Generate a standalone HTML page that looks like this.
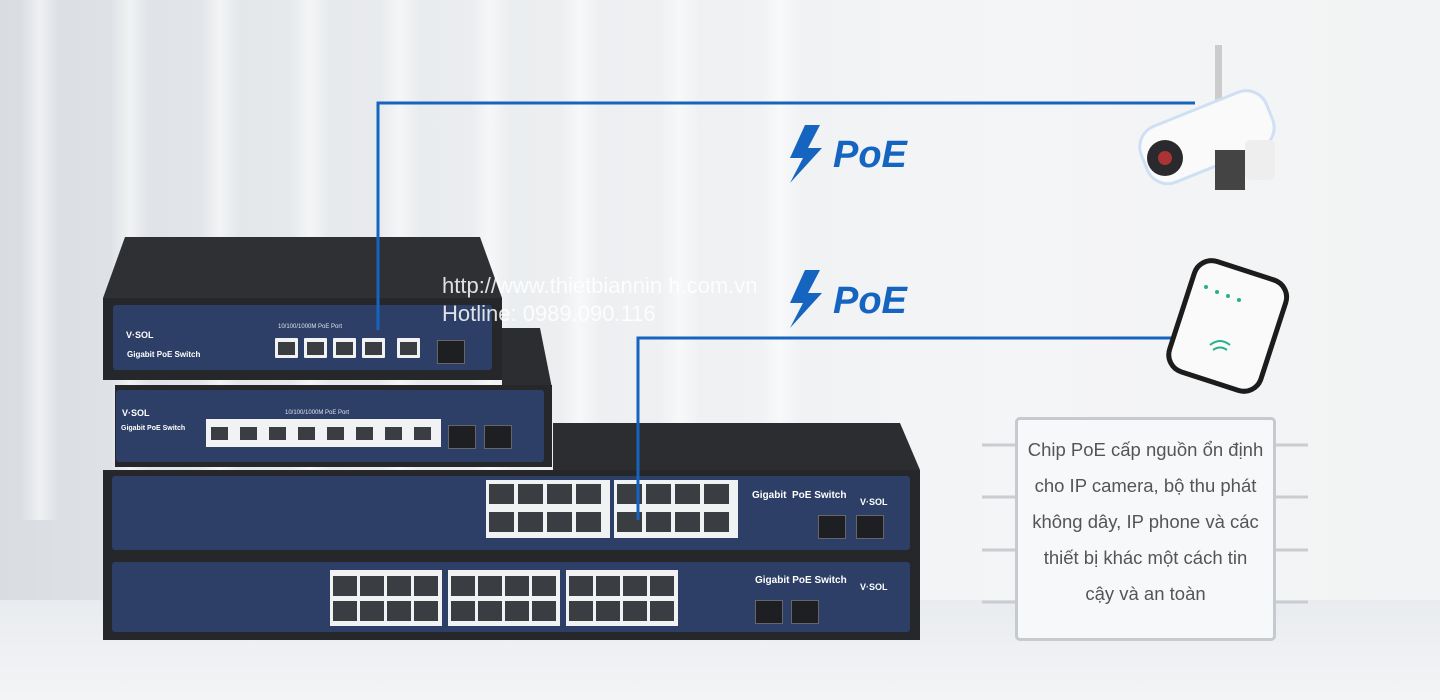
<!DOCTYPE html><html><head><meta charset="utf-8"><style>
*{margin:0;padding:0;box-sizing:border-box}
body{width:1440px;height:700px;overflow:hidden;position:relative;font-family:"Liberation Sans",sans-serif;
background:linear-gradient(90deg,#d9dde2 0%,#e6e9ec 20%,#eef0f2 45%,#f4f5f6 70%,#f2f3f4 100%)}
.a{position:absolute}
.stripe{position:absolute;top:0;height:520px;width:40px;background:linear-gradient(90deg,rgba(255,255,255,0),rgba(255,255,255,.55),rgba(255,255,255,0))}
.dark{background:#25272b}
.panel{background:#2d3f66;border-radius:3px}
.port{position:absolute;width:23px;height:20px;background:#f1f2f4;border-radius:1px}
.port:after{content:"";position:absolute;left:3px;top:4px;width:17px;height:13px;background:#3a3d42}
.sfp{position:absolute;width:28px;height:24px;background:#1d1f23;border:1px solid #666}
.w{color:#fff;font-size:10px;font-weight:bold}
.lbl{color:#dfe5f0;font-size:6px}
</style></head><body>
<div class="stripe" style="left:20px"></div><div class="stripe" style="left:110px"></div><div class="stripe" style="left:200px"></div><div class="stripe" style="left:290px"></div><div class="stripe" style="left:380px"></div><div class="stripe" style="left:470px"></div><div class="stripe" style="left:560px"></div><div class="stripe" style="left:660px"></div><div class="stripe" style="left:760px"></div>
<div class="a" style="left:0;top:600px;width:1440px;height:100px;background:linear-gradient(#e9ecef,#f3f4f6)"></div>

<svg class="a" style="left:0;top:0" width="1440" height="700">
<polygon points="553,423 900,423 920,470 553,470" fill="#2b2d31"/>
<polygon points="502,328 540,328 552,388 502,388" fill="#2b2d31"/>
<polygon points="125,237 480,237 502,298 103,298" fill="#2e3034"/>
</svg>
<div class="a dark" style="left:103px;top:298px;width:399px;height:82px"></div>
<div class="a panel" style="left:113px;top:305px;width:379px;height:65px"></div>
<div class="a w" style="left:126px;top:330px;font-size:9px">V·SOL</div>
<div class="a w" style="left:127px;top:350px;font-size:8px">Gigabit PoE Switch</div>
<div class="a lbl" style="left:278px;top:324px">10/100/1000M PoE Port</div>
<div class="port" style="left:275px;top:338px"></div><div class="port" style="left:304px;top:338px"></div><div class="port" style="left:333px;top:338px"></div><div class="port" style="left:362px;top:338px"></div><div class="port" style="left:397px;top:338px"></div>
<div class="sfp" style="left:437px;top:340px"></div>

<div class="a dark" style="left:115px;top:385px;width:437px;height:82px"></div>
<div class="a panel" style="left:116px;top:390px;width:428px;height:72px"></div>
<div class="a w" style="left:122px;top:408px;font-size:9px">V·SOL</div>
<div class="a w" style="left:121px;top:425px;font-size:7px">Gigabit PoE Switch</div>
<div class="a lbl" style="left:285px;top:410px">10/100/1000M PoE Port</div>
<div class="a" style="left:206px;top:419px;width:235px;height:28px;background:#f1f2f4"></div>
<div class="port" style="left:208px;top:423px"></div><div class="port" style="left:237px;top:423px"></div><div class="port" style="left:266px;top:423px"></div><div class="port" style="left:295px;top:423px"></div><div class="port" style="left:324px;top:423px"></div><div class="port" style="left:353px;top:423px"></div><div class="port" style="left:382px;top:423px"></div><div class="port" style="left:411px;top:423px"></div>
<div class="sfp" style="left:448px;top:425px"></div><div class="sfp" style="left:484px;top:425px"></div>

<div class="a dark" style="left:103px;top:470px;width:817px;height:85px"></div>
<div class="a panel" style="left:112px;top:476px;width:798px;height:74px"></div>
<div class="a" style="left:486px;top:480px;width:124px;height:58px;background:#f1f2f4"></div>
<div class="a" style="left:614px;top:480px;width:124px;height:58px;background:#f1f2f4"></div>
<div class="a w" style="left:752px;top:490px">Gigabit &nbsp;PoE Switch</div>
<div class="a w" style="left:860px;top:497px;font-size:9px">V·SOL</div>
<div class="sfp" style="left:818px;top:515px"></div><div class="sfp" style="left:856px;top:515px"></div>

<div class="a dark" style="left:103px;top:555px;width:817px;height:85px"></div>
<div class="a panel" style="left:112px;top:562px;width:798px;height:70px"></div>
<div class="a" style="left:330px;top:570px;width:112px;height:56px;background:#f1f2f4"></div>
<div class="a" style="left:448px;top:570px;width:112px;height:56px;background:#f1f2f4"></div>
<div class="a" style="left:566px;top:570px;width:112px;height:56px;background:#f1f2f4"></div>
<div class="a w" style="left:755px;top:575px">Gigabit PoE Switch</div>
<div class="a w" style="left:860px;top:582px;font-size:9px">V·SOL</div>
<div class="sfp" style="left:755px;top:600px"></div><div class="sfp" style="left:791px;top:600px"></div>

<svg class="a" style="left:0;top:0" width="1440" height="700">
<g fill="#3a3d42">
<g id="r"><rect x="489" y="484" width="25" height="20"/><rect x="518" y="484" width="25" height="20"/><rect x="547" y="484" width="25" height="20"/><rect x="576" y="484" width="25" height="20"/>
<rect x="489" y="512" width="25" height="20"/><rect x="518" y="512" width="25" height="20"/><rect x="547" y="512" width="25" height="20"/><rect x="576" y="512" width="25" height="20"/></g>
<use href="#r" x="128"/>
<g id="q"><rect x="333" y="576" width="24" height="20"/><rect x="360" y="576" width="24" height="20"/><rect x="387" y="576" width="24" height="20"/><rect x="414" y="576" width="24" height="20"/>
<rect x="333" y="601" width="24" height="20"/><rect x="360" y="601" width="24" height="20"/><rect x="387" y="601" width="24" height="20"/><rect x="414" y="601" width="24" height="20"/></g>
<use href="#q" x="118"/><use href="#q" x="236"/>
</g>
<polyline points="378,330 378,103 1195,103" fill="none" stroke="#1565c0" stroke-width="3"/>
<polyline points="638,520 638,338 1178,338" fill="none" stroke="#1565c0" stroke-width="3"/>
<polygon points="805,125 790,158 803,158 790,183 822,148 808,148 820,125" fill="#1565c0"/>
<polygon points="805,270 790,303 803,303 790,328 822,293 808,293 820,270" fill="#1565c0"/>
<text x="833" y="167" font-family="Liberation Sans" font-weight="bold" font-style="italic" font-size="38" fill="#1565c0">PoE</text>
<text x="833" y="313" font-family="Liberation Sans" font-weight="bold" font-style="italic" font-size="38" fill="#1565c0">PoE</text>
<rect x="1215" y="45" width="7" height="60" fill="#ccc"/>
<g transform="rotate(-22 1200 140)"><rect x="1140" y="110" width="135" height="60" rx="22" fill="#fafafa" stroke="#cfe0f5" stroke-width="3"/></g>
<circle cx="1165" cy="158" r="18" fill="#2a2a2e"/><circle cx="1165" cy="158" r="7" fill="#a33"/>
<rect x="1215" y="150" width="30" height="40" fill="#444"/>
<rect x="1245" y="140" width="30" height="40" rx="5" fill="#eee"/>
<g transform="rotate(18 1228 325)"><rect x="1180" y="268" width="96" height="116" rx="18" fill="#fafafa" stroke="#1c1c1c" stroke-width="5"/></g>
<g fill="#27b08a"><circle cx="1206" cy="287" r="2"/><circle cx="1217" cy="292" r="2"/><circle cx="1228" cy="296" r="2"/><circle cx="1239" cy="300" r="2"/></g>
<path d="M1210 345 q10 -8 20 0 M1213 350 q7 -5 14 0" stroke="#27b08a" stroke-width="2" fill="none"/>
<g stroke="#c9ccd0" stroke-width="3"><line x1="982" y1="445" x2="1015" y2="445"/><line x1="982" y1="497" x2="1015" y2="497"/><line x1="982" y1="550" x2="1015" y2="550"/><line x1="982" y1="602" x2="1015" y2="602"/>
<line x1="1275" y1="445" x2="1308" y2="445"/><line x1="1275" y1="497" x2="1308" y2="497"/><line x1="1275" y1="550" x2="1308" y2="550"/><line x1="1275" y1="602" x2="1308" y2="602"/></g>
</svg>
<div class="a" style="left:1015px;top:417px;width:261px;height:224px;border:3px solid #c6c9cd;border-radius:5px;background:#f7f8f9"></div>
<div class="a" style="left:1016px;top:432px;width:259px;color:#555;font-size:18.5px;line-height:36px;text-align:center">Chip PoE cấp nguồn ổn định<br>cho IP camera, bộ thu phát<br>không dây, IP phone và các<br>thiết bị khác một cách tin<br>cậy và an toàn</div>
<div class="a" style="left:442px;top:272px;color:rgba(255,255,255,.85);font-size:22px;line-height:28px;white-space:nowrap">http://www.thietbiannin h.com.vn<br>Hotline: 0989.090.116</div>
</body></html>
